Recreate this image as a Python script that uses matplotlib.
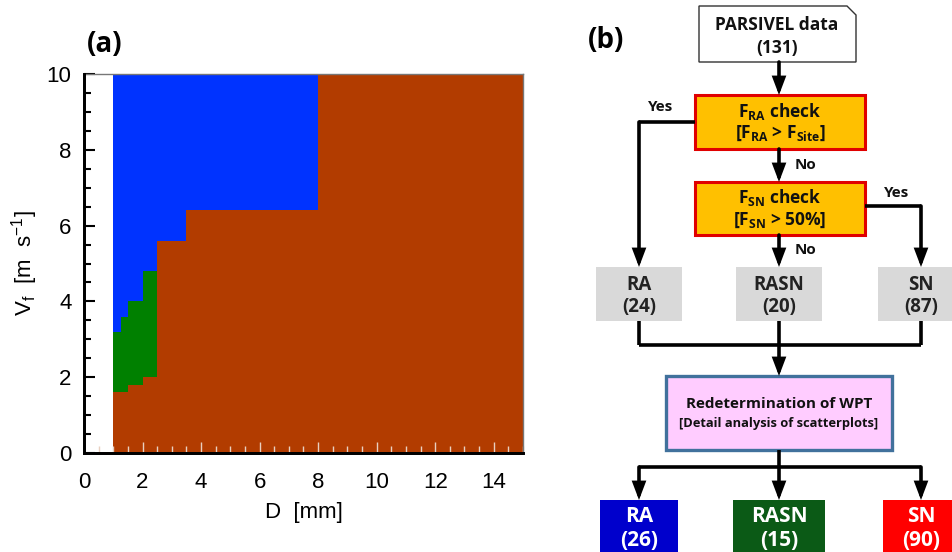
import numpy as np
import matplotlib
matplotlib.use('Agg')
import matplotlib.pyplot as plt
from matplotlib.colors import ListedColormap
from matplotlib.patches import Polygon, Rectangle
from matplotlib.ticker import MultipleLocator

plt.rcParams['mathtext.fontset'] = 'custom'
plt.rcParams['mathtext.bf'] = 'Open Sans:bold'
plt.rcParams['mathtext.rm'] = 'Open Sans'

#-panel (a): classification on the D-Vf plane (PARSIVEL bins)
d_edges = [1.0, 1.25, 1.5, 2.0, 2.5, 3.5, 8.0, 15.0]
sn_top = [1.6, 1.6, 1.8, 2.0, 5.6, 6.4, 10.0]     # below -> SN
rasn_top = [3.2, 3.6, 4.0, 4.8, 5.6, 6.4, 10.0]   # between -> RASN, above -> RA
class_colors = ['#b23c00', '#008000', '#0033ff']  # SN, RASN, RA

#-panel (b): flow chart counts
n_total = 131
first_labels = ['RA', 'RASN', 'SN']
first_counts = [24, 20, 87]
final_counts = [26, 15, 90]
final_colors = ['#0000cc', '#0b5a16', '#ff0000']

v_edges = np.unique(np.concatenate([[0.0, 10.0], sn_top, rasn_top]))
v_mid = 0.5 * (v_edges[:-1] + v_edges[1:])
cls = np.zeros((len(v_mid), len(sn_top)))
for j in range(len(sn_top)):
    cls[:, j] = np.where(v_mid < sn_top[j], 0, np.where(v_mid < rasn_top[j], 1, 2))

fig = plt.figure(figsize=(9.53, 5.52), dpi=100)

#-panel (b) canvas first, in pixel coordinates of the whole figure
fb = fig.add_axes([0, 0, 1, 1])
fb.set_xlim(0, 953)
fb.set_ylim(552, 0)
fb.axis('off')

ax = fig.add_axes([84 / 953., 1 - 453 / 552., 439 / 953., 379 / 552.])
ax.pcolormesh(d_edges, v_edges, cls, cmap=ListedColormap(class_colors), vmin=-0.5, vmax=2.5)
ax.set_xlim(0, 15)
ax.set_ylim(0, 10)
ax.xaxis.set_major_locator(MultipleLocator(2))
ax.xaxis.set_minor_locator(MultipleLocator(0.5))
ax.yaxis.set_major_locator(MultipleLocator(2))
ax.yaxis.set_minor_locator(MultipleLocator(0.5))
ax.tick_params(which='both', direction='in', top=False, right=False, width=1.5, color='black')
ax.tick_params(axis='x', which='both', color='#e8d0c0', width=1.0)
ax.tick_params(which='major', length=8, labelsize=16)
ax.tick_params(axis='x', which='major', pad=14)
ax.tick_params(axis='y', which='major', pad=9)
ax.tick_params(which='minor', length=5)
for lab in ax.get_xticklabels() + ax.get_yticklabels():
    lab.set_family('Liberation Sans')
for s in ['left', 'bottom']:
    ax.spines[s].set_color('black')
    ax.spines[s].set_linewidth(2.0)
    ax.spines[s].set_zorder(10)
for s in ['top', 'right']:
    ax.spines[s].set_color('#777777')
    ax.spines[s].set_linewidth(1.0)
#-frame lines on left and bottom drawn on top, so they always show
ax.plot([0, 0, 1], [1, 0, 0], transform=ax.transAxes, color='black', lw=2.0,
        clip_on=False, zorder=20, solid_joinstyle='miter')
ax.set_xlabel('D  [mm]', fontsize=16, family='Liberation Sans', labelpad=6)
ax.set_ylabel(r'V$_{\mathregular{f}}$  [m  s$^{\mathregular{-1}}$]', fontsize=16,
              family='Liberation Sans', labelpad=5)

fb.text(105, 44, '(a)', fontsize=20, fontweight='bold', family='Open Sans', ha='center', va='center')
fb.text(606, 40, '(b)', fontsize=20, fontweight='bold', family='Open Sans', ha='center', va='center')

LW = 2.6
def line(xs, ys):
    fb.plot(xs, ys, color='k', lw=LW, solid_joinstyle='miter', solid_capstyle='butt')

def arrow(x0, y0, x1, y1):
    fb.annotate('', xy=(x1, y1), xytext=(x0, y0),
                arrowprops=dict(arrowstyle='-|>,head_length=0.45,head_width=0.17', lw=LW,
                                color='k', shrinkA=0, shrinkB=0, mutation_scale=20,
                                joinstyle='miter'))

def box(x0, y0, x1, y1, fc, ec, lw):
    fb.add_patch(Rectangle((x0, y0), x1 - x0, y1 - y0, facecolor=fc, edgecolor=ec, lw=lw, zorder=2))

def txt(x, y, s, size, color='#111111'):
    fb.text(x, y, s, fontsize=size, fontweight='bold', family='Open Sans', color=color,
            ha='center', va='center', zorder=3)

# PARSIVEL box with folded corner
fb.add_patch(Polygon([(699, 6), (847, 6), (856, 15), (856, 62), (699, 62)], closed=True,
                     facecolor='white', edgecolor='#333333', lw=1.0, zorder=2))
txt(777, 25, 'PARSIVEL data', 12.5)
txt(777, 48, '(%d)' % n_total, 12.5)
arrow(779, 62, 779, 95)

# F_RA check
box(695, 95, 865, 149, '#ffc000', '#e00000', 2.2)
txt(780, 112, r'$\mathbf{F_{RA}}$ check', 12.5)
txt(780, 133, r'[$\mathbf{F_{RA}}$ > $\mathbf{F_{Site}}$]', 12.5)
txt(661, 107, 'Yes', 11)
line([695, 639], [122, 122])
arrow(639, 122, 639, 267)
arrow(779, 149, 779, 182)
txt(806, 165, 'No', 11)

# F_SN check
box(695, 182, 865, 235, '#ffc000', '#e00000', 2.2)
txt(780, 198, r'$\mathbf{F_{SN}}$ check', 12.5)
txt(780, 220, r'[$\mathbf{F_{SN}}$ > 50%]', 12.5)
txt(897, 193, 'Yes', 11)
line([865, 921], [206, 206])
arrow(921, 206, 921, 267)
arrow(779, 235, 779, 267)
txt(806, 250, 'No', 11)

# first classification
xc = [639, 779, 921]
for x, lab, n in zip(xc, first_labels, first_counts):
    box(x - 43, 267, x + 43, 321, '#d9d9d9', 'none', 0)
    txt(x, 285, lab, 13.5, '#222222')
    txt(x, 307, '(%d)' % n, 13.5, '#222222')
    line([x, x], [321, 345])
line([xc[0], xc[2]], [345, 345])
arrow(779, 345, 779, 376)

# redetermination box
box(666, 376, 892, 450, '#ffccff', '#41719c', 2.4)
txt(779, 404, 'Redetermination of WPT', 11)
txt(779, 423, '[Detail analysis of scatterplots]', 9.3)
line([779, 779], [450, 467])
line([xc[0], xc[2]], [467, 467])

# final classification
widths = [39, 46, 38]
for x, w, lab, n, c in zip(xc, widths, first_labels, final_counts, final_colors):
    arrow(x, 467, x, 500)
    box(x - w, 500, x + w, 570, c, 'none', 0)
    txt(x, 517, lab, 15, 'white')
    txt(x, 541, '(%d)' % n, 15, 'white')

fig.savefig('out.png', dpi=100)
